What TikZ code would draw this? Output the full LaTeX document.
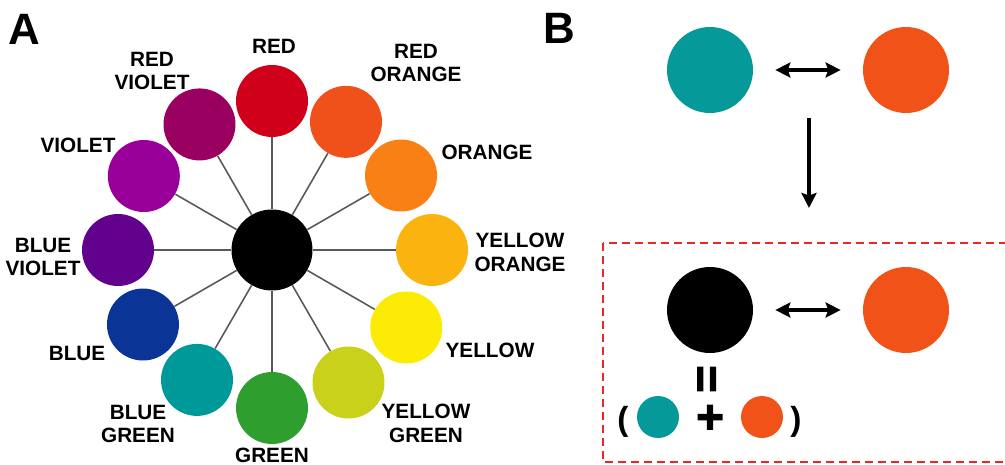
\documentclass[tikz,border=0pt]{standalone}
\usepackage{fontspec}
\setmainfont{Liberation Sans}
\newfontfamily\signfont[FakeBold=2.5]{Liberation Sans}
\usetikzlibrary{arrows.meta}

\definecolor{cRed}{RGB}{208,0,27}
\definecolor{cRedOrange}{RGB}{240,80,25}
\definecolor{cOrange}{RGB}{249,128,20}
\definecolor{cYellowOrange}{RGB}{251,180,15}
\definecolor{cYellow}{RGB}{252,236,5}
\definecolor{cYellowGreen}{RGB}{201,209,27}
\definecolor{cGreen}{RGB}{46,158,46}
\definecolor{cBlueGreen}{RGB}{0,153,154}
\definecolor{cBlue}{RGB}{10,53,151}
\definecolor{cBlueViolet}{RGB}{99,1,143}
\definecolor{cViolet}{RGB}{152,0,153}
\definecolor{cRedViolet}{RGB}{153,0,96}
\definecolor{cTeal}{RGB}{6,153,153}
\definecolor{cTangerine}{RGB}{241,82,23}
\definecolor{cFrame}{RGB}{232,40,40}

\tikzset{
  hue/.style={circle, minimum size=1.44cm, inner sep=0pt},
  hub/.style={circle, fill=black, minimum size=1.62cm, inner sep=0pt},
  spoke/.style={draw=black!65, line width=0.9pt},
  huelabel/.style={font=\fontsize{11.8}{13.6}\selectfont\bfseries, align=center, inner sep=0pt},
  panel/.style={font=\fontsize{25}{30}\selectfont\bfseries, inner sep=0pt},
  dot/.style={circle, minimum size=1.72cm, inner sep=0pt},
  smalldot/.style={circle, minimum size=0.84cm, inner sep=0pt},
  tip/.style={Stealth[length=0.3cm, width=0.3cm, inset=0.05cm]},
  link/.style={line width=2.4pt, {Stealth[length=0.3cm, width=0.3cm, inset=0.05cm]}-{Stealth[length=0.3cm, width=0.3cm, inset=0.05cm]}},
  drop/.style={line width=2.4pt, -{Stealth[length=0.3cm, width=0.3cm, inset=0.05cm]}},
  frame/.style={draw=cFrame, line width=1.4pt, dash pattern=on 0.16cm off 0.1cm},
  sign/.style={font=\fontsize{27}{27}\signfont\bfseries, inner sep=0pt},
  paren/.style={font=\fontsize{19}{20}\selectfont\bfseries, inner sep=0pt},
}

\begin{document}
\begin{tikzpicture}[x=0.02cm, y=-0.02cm]
\useasboundingbox (0,0) rectangle (1005,464);

% A: colour wheel
\node[panel] (pa) at (24,29) {A};
\node[hub] (hub) at (272,250) {};
\foreach \i/\a/\r/\col/\lx/\ly/\txt in {
  1/90/149/cRed/274/46/{RED},
  2/60/148/cRedOrange/416/63/{RED\\ORANGE},
  3/30/149/cOrange/487/152/{ORANGE},
  4/0/160/cYellowOrange/520/252/{YELLOW\\ORANGE},
  5/-30/155/cYellow/490/350/{YELLOW},
  6/-60/153/cYellowGreen/426/423/{YELLOW\\GREEN},
  7/-90/158/cGreen/272/455/{GREEN},
  8/-120/150/cBlueGreen/138/424/{BLUE\\GREEN},
  9/-150/149/cBlue/77/353/{BLUE},
  10/180/154/cBlueViolet/43/257/{BLUE\\VIOLET},
  11/150/148/cViolet/78/145/{VIOLET},
  12/120/145/cRedViolet/152/71/{RED\\VIOLET}}{
  \node[hue, fill=\col] (c\i) at ({272+\r*cos(\a)},{250-\r*sin(\a)}) {};
  \draw[spoke] (hub) -- (c\i);
  \node[huelabel] (l\i) at (\lx,\ly) {\txt};
}

% B: complementary pair
\node[panel] (pb) at (559,28) {B};
\node[dot, fill=cTeal] (t1) at (710,70) {};
\node[dot, fill=cTangerine] (o1) at (906,70) {};
\draw[link, shorten <=0.44cm, shorten >=0.44cm] (t1) -- (o1);

\coordinate (split) at (809,118);
\coordinate (land) at (809,208);
\draw[drop] (split) -- (land);

\draw[frame] (603,243) rectangle (1015,462);
\node[dot, fill=black] (k2) at (710,310) {};
\node[dot, fill=cTangerine] (o2) at (906,310) {};
\draw[link, shorten <=0.44cm, shorten >=0.44cm] (k2) -- (o2);

\node[sign, rotate=90] (eq) at (710,379) {=};
\node[paren] (lp) at (623,422) {(};
\node[smalldot, fill=cTeal] (t3) at (658,417) {};
\node[sign] (plus) at (710,419) {+};
\node[smalldot, fill=cTangerine] (o3) at (762,417) {};
\node[paren] (rp) at (796,422) {)};
\end{tikzpicture}
\end{document}
